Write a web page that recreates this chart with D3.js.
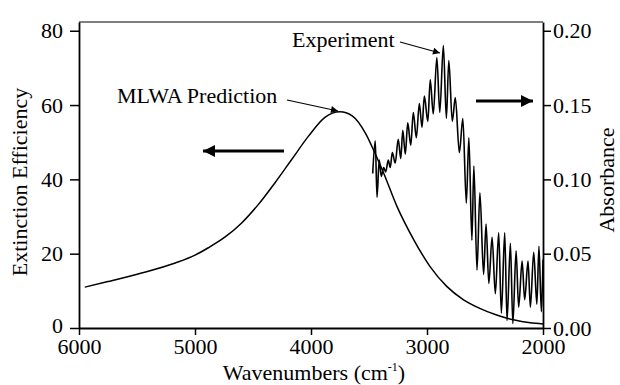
<!DOCTYPE html>
<html>
  <head>
    <meta charset="utf-8">
    <title>MLWA vs experiment</title>
    <style>
      body { margin: 0; padding: 0; background: #fff; }
    </style>
  </head>
  <body>
    <div id="chart"></div>

    <script src="https://cdnjs.cloudflare.com/ajax/libs/d3/7.8.5/d3.min.js"></script>
    <script>
      // MLWA prediction (left axis)
      const predWn  = [5950, 5750, 5460, 5170, 5000, 4885, 4740, 4600, 4455, 4310, 4165, 4020, 3880, 3750,
                       3645, 3530, 3445, 3375, 3260, 3115, 2975, 2830, 2685, 2545, 2400, 2255, 2110, 2000];
      const predEff = [11.0, 12.5, 14.8, 17.5, 19.6, 21.6, 24.5, 28.2, 33.2, 39.1, 45.4, 51.7, 56.7, 58.2,
                       57.1, 52.4, 46.8, 41.8, 32.8, 23.8, 16.6, 11.2, 7.6, 5.3, 3.5, 2.2, 1.4, 1.1];

      // experiment (right axis)
      const expWn  = [3468, 3446, 3431, 3412, 3394, 3373, 3356, 3334, 3317, 3299, 3274, 3248, 3226, 3209,
                      3187, 3166, 3140, 3118, 3092, 3066, 3043, 3023, 2993, 2972, 2946, 2915, 2890, 2859,
                      2833, 2812, 2782, 2756, 2721, 2691, 2661, 2639, 2613, 2596, 2569, 2544, 2512, 2491,
                      2467, 2439, 2411, 2382, 2359, 2330, 2310, 2281, 2260, 2232, 2210, 2180, 2158, 2129,
                      2109, 2080, 2053, 2035, 2014, 2000];
      const expAbs = [0.104, 0.126, 0.088, 0.113, 0.102, 0.108, 0.105, 0.113, 0.108, 0.118, 0.111, 0.127, 0.114, 0.133,
                      0.117, 0.138, 0.123, 0.145, 0.128, 0.151, 0.135, 0.156, 0.139, 0.167, 0.144, 0.182, 0.145, 0.190,
                      0.141, 0.180, 0.139, 0.155, 0.118, 0.141, 0.084, 0.128, 0.059, 0.109, 0.039, 0.091, 0.036, 0.070,
                      0.030, 0.061, 0.023, 0.064, 0.010, 0.064, 0.005, 0.057, 0.003, 0.052, 0.014, 0.045, 0.019, 0.045,
                      0.014, 0.051, 0.016, 0.055, 0.011, 0.046];

      const xTicks = [6000, 5000, 4000, 3000, 2000];
      const leftTicks = [0, 20, 40, 60, 80];
      const rightTicks = [0, 0.05, 0.10, 0.15, 0.20];

      const W = 620, H = 385;
      const m = {left: 79, right: 543, top: 22, bottom: 328};
      const serif = "'Liberation Serif', 'Times New Roman', Times, serif";
      const fs = 22;

      const svg = d3.select('#chart').append('svg')
        .attr('width', W).attr('height', H)
        .attr('font-family', serif);

      const x = d3.scaleLinear().domain([6000, 2000]).range([m.left, m.right]);
      const yL = d3.scaleLinear().domain([0, 82.35]).range([m.bottom, m.top]);
      const yR = d3.scaleLinear().domain([0, 0.2059]).range([m.bottom, m.top]);

      // frame top line
      svg.append('line')
        .attr('x1', m.left).attr('x2', m.right).attr('y1', m.top).attr('y2', m.top)
        .attr('stroke', '#000').attr('stroke-width', 1);

      const gx = svg.append('g').attr('transform', `translate(0,${m.bottom})`)
        .call(d3.axisBottom(x).tickValues(xTicks).tickFormat(d3.format('d')).tickSize(7).tickSizeOuter(0).tickPadding(3));
      const gl = svg.append('g').attr('transform', `translate(${m.left},0)`)
        .call(d3.axisLeft(yL).tickValues(leftTicks).tickSize(9).tickSizeOuter(0).tickPadding(7));
      const gr = svg.append('g').attr('transform', `translate(${m.right},0)`)
        .call(d3.axisRight(yR).tickValues(rightTicks).tickFormat(d3.format('.2f')).tickSize(8).tickSizeOuter(0).tickPadding(2));

      [gx, gl, gr].forEach(g => {
        g.attr('font-family', serif).attr('font-size', fs);
        g.select('.domain').attr('stroke-width', 1.8);
        g.selectAll('.tick line').attr('stroke-width', 1.5);
        g.selectAll('.tick text').attr('font-size', fs).attr('font-family', serif).attr('fill', '#000');
      });
      gx.selectAll('.tick text').attr('dy', '0.74em');
      // the "0" label sits just above the "6000" label, as in the source
      gl.selectAll('.tick text').filter(d => d === 0).attr('dy', '0.2em');

      // curves
      const predLine = d3.line()
        .x((d, i) => x(predWn[i])).y(d => yL(d))
        .curve(d3.curveMonotoneX);
      svg.append('path').datum(predEff)
        .attr('d', predLine).attr('fill', 'none')
        .attr('stroke', '#000').attr('stroke-width', 1.5);

      const expLine = d3.line()
        .x((d, i) => x(expWn[i])).y(d => yR(d))
        .curve(d3.curveMonotoneX);
      svg.append('path').datum(expAbs)
        .attr('d', expLine).attr('fill', 'none')
        .attr('stroke', '#000').attr('stroke-width', 1.6);

      // axis titles
      svg.append('text')
        .attr('transform', `translate(27,182) rotate(-90)`)
        .attr('text-anchor', 'middle').attr('font-size', fs)
        .text('Extinction Efficiency');
      svg.append('text')
        .attr('transform', `translate(614,180) rotate(-90)`)
        .attr('text-anchor', 'middle').attr('font-size', fs)
        .text('Absorbance');
      const xt = svg.append('text')
        .attr('x', 314).attr('y', 380)
        .attr('text-anchor', 'middle').attr('font-size', fs);
      xt.append('tspan').text('Wavenumbers (cm');
      xt.append('tspan').attr('font-size', 12).attr('dy', -9).text('-1');
      xt.append('tspan').attr('dy', 9).text(')');

      // arrow markers
      const defs = svg.append('defs');
      defs.append('marker').attr('id', 'small')
        .attr('viewBox', '0 0 10 10').attr('refX', 10).attr('refY', 5)
        .attr('markerWidth', 9).attr('markerHeight', 7).attr('markerUnits', 'userSpaceOnUse')
        .attr('orient', 'auto')
        .append('path').attr('d', 'M0,0 L10,5 L0,10 Z').attr('fill', '#000');
      defs.append('marker').attr('id', 'big')
        .attr('viewBox', '0 0 10 10').attr('refX', 10).attr('refY', 5)
        .attr('markerWidth', 13).attr('markerHeight', 12).attr('markerUnits', 'userSpaceOnUse')
        .attr('orient', 'auto')
        .append('path').attr('d', 'M0,0 L10,5 L0,10 Z').attr('fill', '#000');

      // annotations
      svg.append('text').attr('x', 117).attr('y', 103).attr('font-size', fs).text('MLWA Prediction');
      svg.append('line').attr('x1', 287).attr('y1', 100).attr('x2', 338).attr('y2', 111)
        .attr('stroke', '#000').attr('stroke-width', 1.2).attr('marker-end', 'url(#small)');

      svg.append('text').attr('x', 292).attr('y', 47).attr('font-size', fs).text('Experiment');
      svg.append('line').attr('x1', 400).attr('y1', 42).attr('x2', 440).attr('y2', 53)
        .attr('stroke', '#000').attr('stroke-width', 1.2).attr('marker-end', 'url(#small)');

      // big direction arrows
      svg.append('line').attr('x1', 284).attr('y1', 151).attr('x2', 203).attr('y2', 151)
        .attr('stroke', '#000').attr('stroke-width', 3).attr('marker-end', 'url(#big)');
      svg.append('line').attr('x1', 476).attr('y1', 101).attr('x2', 533).attr('y2', 101)
        .attr('stroke', '#000').attr('stroke-width', 3).attr('marker-end', 'url(#big)');
    </script>
  </body>
</html>
